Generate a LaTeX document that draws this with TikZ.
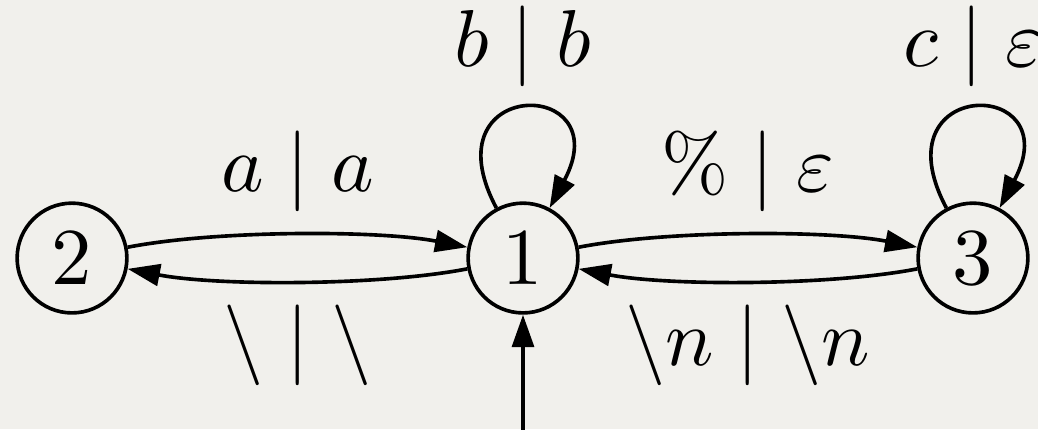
\documentclass[tikz,border=0pt]{standalone}
\usetikzlibrary{arrows.meta}
\definecolor{paper}{RGB}{241,240,236}
\begin{document}
\begin{tikzpicture}[x=0.1239pt,y=0.1239pt,
  state/.style={circle,draw,line width=0.45pt,minimum size=13.6pt,inner sep=0pt},
  tr/.style={-{Triangle[length=4pt,width=2.7pt]},line width=0.45pt},
  lab/.style={inner sep=2.6pt}]
\fill[paper] (0,0) rectangle (1038,429);
\useasboundingbox (0,0) rectangle (1038,429);
\clip (0,0) rectangle (1038,429);
\node[state] (n2) at (72,171) {2};
\node[state] (n1) at (523,171) {1};
\node[state] (n3) at (973,171) {3};
\coordinate (start) at (523,-20);
\draw[tr] (n2) to[bend left=11,looseness=0.68] node[lab,above] {$a \mid a$} (n1);
\draw[tr] (n1) to[bend left=11,looseness=0.68] node[lab,below] {$\backslash \mid \backslash$} (n2);
\draw[tr] (n1) to[bend left=11,looseness=0.68] node[lab,above] {$\% \mid \varepsilon$} (n3);
\draw[tr] (n3) to[bend left=11,looseness=0.68] node[lab,below] {$\backslash n \mid \backslash n$} (n1);
\draw[tr] (n1) to[out=118,in=62,distance=18.5pt] node[lab,above] {$b \mid b$} (n1);
\draw[tr] (n3) to[out=118,in=62,distance=18.5pt] node[lab,above] {$c \mid \varepsilon$} (n3);
\draw[tr] (start) -- (n1);
\end{tikzpicture}
\end{document}
